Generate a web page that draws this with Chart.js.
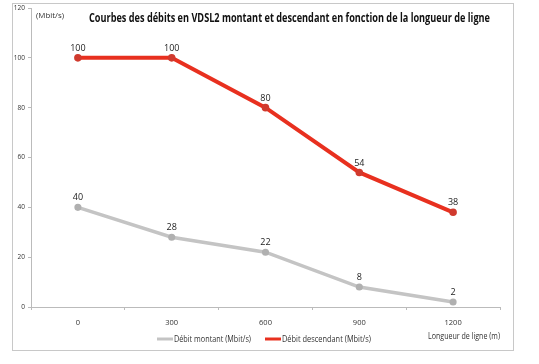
<!DOCTYPE html>
<html>
<head>
<meta charset="utf-8">
<script src="https://cdn.jsdelivr.net/npm/chart.js@4"></script>
<style>
  html, body { margin: 0; padding: 0; background: #fff; }
  #wrap { width: 539px; height: 364px; }
</style>
</head>
<body>
<div id="wrap"><canvas id="myChart" width="539" height="364"></canvas></div>
<script>
const lengths = ['0', '300', '600', '900', '1200'];
const upstream = [40, 28, 22, 8, 2];
const downstream = [100, 100, 80, 54, 38];
const yTicks = [0, 20, 40, 60, 80, 100, 120];

const GREY = '#c4c4c4';
const RED = '#e8301f';
const FONT = '"Open Sans", "DejaVu Sans", sans-serif';

// write text at a given size, squeezed sideways so it spans the given width
function fitText(ctx, text, x, y, width, font) {
    ctx.font = font;
    const k = width / ctx.measureText(text).width;
    ctx.save();
    ctx.translate(x, y);
    ctx.scale(k, 1);
    ctx.fillText(text, 0, 0);
    ctx.restore();
}

// labels, frame, legend and titles drawn on top of the chart
const decorations = {
    id: 'decorations',
    afterDraw(chart) {
        const ctx = chart.ctx;
        ctx.save();

        ctx.strokeStyle = '#c8c8c8';
        ctx.lineWidth = 1;
        ctx.strokeRect(12.5, 3.5, 501, 347);

        ctx.fillStyle = '#222';
        ctx.font = '9px ' + FONT;
        ctx.textAlign = 'center';
        ctx.textBaseline = 'bottom';
        chart.data.datasets.forEach((ds, i) => {
            chart.getDatasetMeta(i).data.forEach((pt, j) => {
                ctx.fillText(String(ds.data[j]), pt.x, pt.y - 5);
            });
        });

        ctx.textAlign = 'left';
        ctx.textBaseline = 'middle';
        ctx.fillStyle = '#333';
        fitText(ctx, '(Mbit/s)', 36, 16, 28, '8px ' + FONT);

        ctx.fillStyle = '#111';
        fitText(ctx, 'Courbes des débits en VDSL2 montant et descendant en fonction de la longueur de ligne', 89, 18, 401, 'bold 12.5px ' + FONT);

        ctx.fillStyle = '#333';
        fitText(ctx, 'Longueur de ligne (m)', 428, 337, 72, '8.5px ' + FONT);

        // legend
        const items = [
            { text: 'Débit montant (Mbit/s)', color: GREY, x: 157, w: 77 },
            { text: 'Débit descendant (Mbit/s)', color: RED, x: 265, w: 89 }
        ];
        items.forEach(it => {
            ctx.strokeStyle = it.color;
            ctx.lineWidth = 3;
            ctx.beginPath();
            ctx.moveTo(it.x, 339);
            ctx.lineTo(it.x + 16, 339);
            ctx.stroke();
            ctx.fillStyle = '#333';
            fitText(ctx, it.text, it.x + 17, 339.5, it.w, '8.5px ' + FONT);
        });

        ctx.restore();
    }
};

new Chart(document.getElementById('myChart'), {
    type: 'line',
    data: {
        labels: lengths,
        datasets: [
            {
                label: 'Débit montant (Mbit/s)',
                data: upstream,
                borderColor: GREY,
                backgroundColor: GREY,
                borderWidth: 3.5,
                pointRadius: 1.8,
                pointBackgroundColor: '#b0b0b0',
                pointBorderColor: '#b0b0b0',
                tension: 0
            },
            {
                label: 'Débit descendant (Mbit/s)',
                data: downstream,
                borderColor: RED,
                backgroundColor: RED,
                borderWidth: 4,
                pointRadius: 1.8,
                pointBackgroundColor: '#d03a2e',
                pointBorderColor: '#d03a2e',
                tension: 0
            }
        ]
    },
    options: {
        responsive: false,
        animation: false,
        layout: { padding: { left: 0, right: 39, top: 7, bottom: 0 } },
        plugins: {
            legend: { display: false },
            tooltip: { enabled: false },
            title: { display: false }
        },
        scales: {
            x: {
                offset: true,
                grid: {
                    offset: true,
                    drawOnChartArea: false,
                    drawTicks: true,
                    tickLength: 3,
                    color: '#bbb'
                },
                border: { color: '#bbb' },
                ticks: {
                    color: '#333',
                    font: { size: 7.5, family: FONT },
                    padding: 8,
                    maxRotation: 0
                },
                afterFit(scale) { scale.height = 57; }
            },
            y: {
                min: 0,
                max: 120,
                afterBuildTicks(scale) { scale.ticks = yTicks.map(v => ({ value: v })); },
                grid: {
                    drawOnChartArea: false,
                    drawTicks: true,
                    tickLength: 3,
                    color: '#bbb'
                },
                border: { color: '#bbb' },
                ticks: {
                    color: '#333',
                    font: { size: 6.5, family: FONT },
                    padding: 3
                },
                afterFit(scale) { scale.width = 31; }
            }
        }
    },
    plugins: [decorations]
});
</script>
</body>
</html>
